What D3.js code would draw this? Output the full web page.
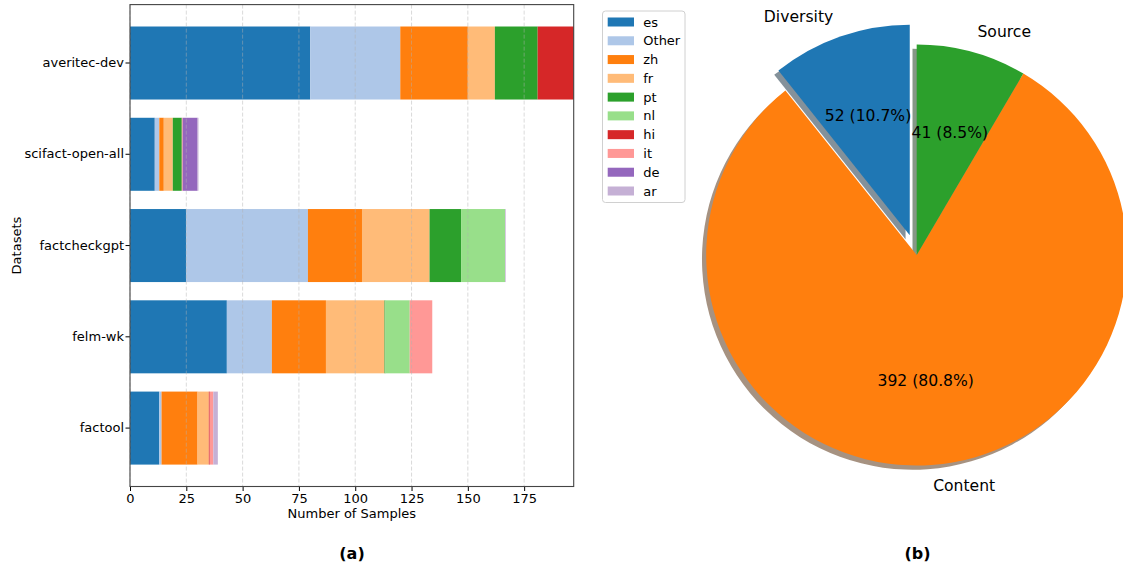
<!DOCTYPE html>
<html>
<head>
<meta charset="utf-8">
<script src="https://cdn.jsdelivr.net/npm/d3@7"></script>
<style>
  html, body { margin: 0; padding: 0; background: #fff; }
  svg { display: block; font-family: "DejaVu Sans", sans-serif; }
</style>
</head>
<body>
<svg id="chart" width="1123" height="567"></svg>
<script>
// ---------- Data ----------
const datasets = ["averitec-dev", "scifact-open-all", "factcheckgpt", "felm-wk", "factool"];
const languages = ["es", "Other", "zh", "fr", "pt", "nl", "hi", "it", "de", "ar"];
// values per language, in dataset order above
const es    = [80, 11, 25, 43, 13];
const other = [40, 2, 54, 20, 1];
const zh    = [30, 2, 24, 24, 16];
const fr    = [12, 4, 30, 26, 5];
const pt    = [19, 4, 14, 0.4, 0];
const nl    = [0, 0, 19.5, 10.8, 0];
const hi    = [16, 0, 0, 0, 0.4];
const it    = [0, 0.4, 0, 10, 1.6];
const de    = [0, 6.6, 0, 0, 0];
const ar    = [0, 0.4, 0.3, 0, 2];
const langColors = ["#1f77b4", "#aec7e8", "#ff7f0e", "#ffbb78", "#2ca02c",
                    "#98df8a", "#d62728", "#ff9896", "#9467bd", "#c5b0d5"];
const xTicks = [0, 25, 50, 75, 100, 125, 150, 175];

const pieLabels = ["Diversity", "Content", "Source"];
const pieValues = [52, 392, 41];
const pieColors = ["#1f77b4", "#ff7f0e", "#2ca02c"];
const pieExplode = [0.1, 0, 0];

// ---------- Bar chart (a) ----------
const svg = d3.select("#chart");
const series = [es, other, zh, fr, pt, nl, hi, it, de, ar];
const rows = datasets.map((d, i) => {
  const o = { dataset: d };
  languages.forEach((l, j) => o[l] = series[j][i]);
  return o;
});
const stack = d3.stack().keys(languages)(rows);

const plot = { left: 130, right: 573.7, top: 4.6, bottom: 486.5 };
const x = d3.scaleLinear().domain([0, 197]).range([plot.left, plot.right]);
const y = d3.scaleBand().domain(datasets).range([plot.top, plot.bottom])
  .paddingInner(0.2).paddingOuter(0.24);
const color = d3.scaleOrdinal().domain(languages).range(langColors);

const gBars = svg.append("g");
stack.forEach(layer => {
  gBars.append("g").attr("fill", color(layer.key))
    .selectAll("rect").data(layer).join("rect")
    .attr("x", d => x(d[0]))
    .attr("width", d => Math.max(0, x(d[1]) - x(d[0])))
    .attr("y", d => y(d.data.dataset))
    .attr("height", y.bandwidth());
});

// grid (above bars, like matplotlib)
svg.append("g").selectAll("line").data(xTicks).join("line")
  .attr("x1", d => x(d)).attr("x2", d => x(d))
  .attr("y1", plot.top).attr("y2", plot.bottom)
  .attr("stroke", "#b0b0b0").attr("stroke-opacity", 0.6)
  .attr("stroke-width", 0.8).attr("stroke-dasharray", "4,2");

// axes
const xAxis = d3.axisBottom(x).tickValues(xTicks).tickSize(4.5).tickPadding(3);
const gx = svg.append("g").attr("transform", `translate(0,${plot.bottom})`).call(xAxis);
gx.select(".domain").remove();
gx.selectAll("text").attr("font-size", 13).attr("fill", "#000")
  .attr("font-family", "DejaVu Sans");
gx.selectAll("line").attr("stroke", "#000").attr("stroke-width", 1);

const yAxis = d3.axisLeft(y).tickSize(4.5).tickPadding(1.5);
const gy = svg.append("g").attr("transform", `translate(${plot.left},0)`).call(yAxis);
gy.select(".domain").remove();
gy.selectAll("text").attr("font-size", 13).attr("fill", "#000")
  .attr("font-family", "DejaVu Sans");
gy.selectAll("line").attr("stroke", "#000").attr("stroke-width", 1);

// spines
svg.append("rect")
  .attr("x", plot.left).attr("y", plot.top)
  .attr("width", plot.right - plot.left).attr("height", plot.bottom - plot.top)
  .attr("fill", "none").attr("stroke", "#444").attr("stroke-width", 1.1);

svg.append("text").attr("x", (plot.left + plot.right) / 2).attr("y", 513)
  .attr("text-anchor", "middle").attr("dominant-baseline", "central")
  .attr("font-size", 13).text("Number of Samples");
svg.append("text")
  .attr("transform", `translate(16.5,${(plot.top + plot.bottom) / 2}) rotate(-90)`)
  .attr("text-anchor", "middle").attr("dominant-baseline", "central")
  .attr("font-size", 13).text("Datasets");

svg.append("text").attr("x", 352).attr("y", 553)
  .attr("text-anchor", "middle").attr("dominant-baseline", "central")
  .attr("font-size", 16).attr("font-weight", "bold").text("(a)");

// legend
const leg = svg.append("g");
leg.append("rect").attr("x", 602.5).attr("y", 11).attr("width", 82.5).attr("height", 191.5)
  .attr("rx", 3).attr("fill", "#fff").attr("stroke", "#d0d0d0").attr("stroke-width", 1);
const legY = d3.scalePoint().domain(languages).range([22, 191]);
const li = leg.selectAll("g.item").data(languages).join("g").attr("class", "item")
  .attr("transform", d => `translate(0,${legY(d)})`);
li.append("rect").attr("x", 607.7).attr("y", -4.5).attr("width", 26.3).attr("height", 9)
  .attr("fill", d => color(d));
li.append("text").attr("x", 643.3).attr("y", 0).attr("dominant-baseline", "central")
  .attr("font-size", 13).text(d => d);

// ---------- Pie chart (b) ----------
const cx = 916.7, cy = 255, R = 210.5;
const pie = d3.pie().sort(null).startAngle(0).endAngle(-2 * Math.PI);
const arcsData = pie(pieValues);
const arc = d3.arc().innerRadius(0).outerRadius(R);
const total = d3.sum(pieValues);

const gPie = svg.append("g").attr("transform", `translate(${cx},${cy})`);
arcsData.forEach((a, i) => {
  const mid = (a.startAngle + a.endAngle) / 2;
  a.mid = mid;
  a.ox = Math.sin(mid) * pieExplode[i] * R;
  a.oy = -Math.cos(mid) * pieExplode[i] * R;
});
// shadows first
arcsData.forEach((a, i) => {
  const c = d3.rgb(pieColors[i]);
  gPie.append("path")
    .attr("d", arc(a))
    .attr("transform", `translate(${a.ox - 0.02 * R},${a.oy + 0.02 * R})`)
    .attr("fill", d3.rgb(c.r * 0.3, c.g * 0.3, c.b * 0.3))
    .attr("fill-opacity", 0.5);
});
arcsData.forEach((a, i) => {
  gPie.append("path")
    .attr("d", arc(a))
    .attr("transform", `translate(${a.ox},${a.oy})`)
    .attr("fill", pieColors[i]);
});
arcsData.forEach((a, i) => {
  const lx = a.ox + Math.sin(a.mid) * 1.1 * R;
  const ly = a.oy - Math.cos(a.mid) * 1.1 * R;
  gPie.append("text").attr("x", lx).attr("y", ly)
    .attr("text-anchor", lx > a.ox ? "start" : "end")
    .attr("dominant-baseline", "central").attr("font-size", 15.6)
    .text(pieLabels[i]);
  const px = a.ox + Math.sin(a.mid) * 0.6 * R;
  const py = a.oy - Math.cos(a.mid) * 0.6 * R;
  gPie.append("text").attr("x", px).attr("y", py)
    .attr("text-anchor", "middle")
    .attr("dominant-baseline", "central").attr("font-size", 15.6)
    .text(`${pieValues[i]} (${(pieValues[i] / total * 100).toFixed(1)}%)`);
});

svg.append("text").attr("x", 917.5).attr("y", 553)
  .attr("text-anchor", "middle").attr("dominant-baseline", "central")
  .attr("font-size", 16).attr("font-weight", "bold").text("(b)");
</script>
</body>
</html>
